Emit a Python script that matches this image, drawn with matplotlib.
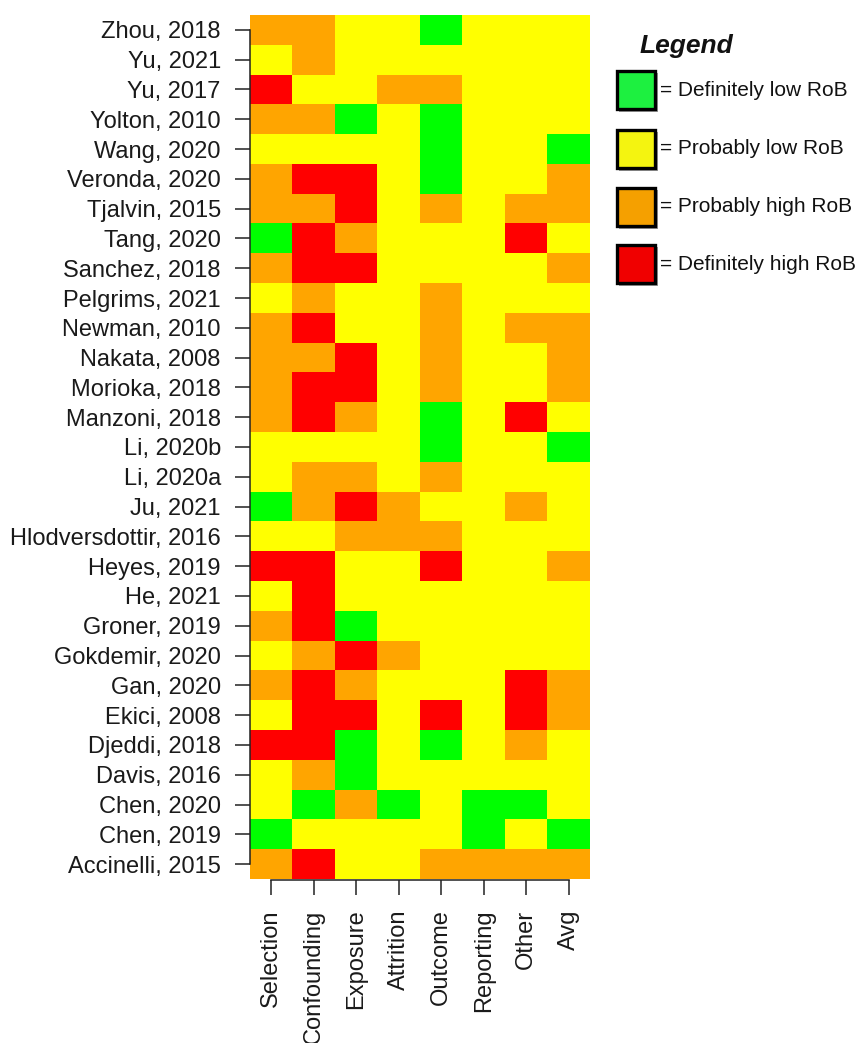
import numpy as np
import matplotlib
matplotlib.use("Agg")
import matplotlib.pyplot as plt
from matplotlib.colors import ListedColormap
from matplotlib.patches import Rectangle

plt.rcParams['font.family'] = ['Liberation Sans', 'DejaVu Sans']

# study labels, top to bottom
studies = ["Zhou, 2018", "Yu, 2021", "Yu, 2017", "Yolton, 2010", "Wang, 2020",
           "Veronda, 2020", "Tjalvin, 2015", "Tang, 2020", "Sanchez, 2018",
           "Pelgrims, 2021", "Newman, 2010", "Nakata, 2008", "Morioka, 2018",
           "Manzoni, 2018", "Li, 2020b", "Li, 2020a", "Ju, 2021",
           "Hlodversdottir, 2016", "Heyes, 2019", "He, 2021", "Groner, 2019",
           "Gokdemir, 2020", "Gan, 2020", "Ekici, 2008", "Djeddi, 2018",
           "Davis, 2016", "Chen, 2020", "Chen, 2019", "Accinelli, 2015"]

domains = ["Selection", "Confounding", "Exposure", "Attrition", "Outcome",
           "Reporting", "Other", "Avg"]

# 0 = definitely low, 1 = probably low, 2 = probably high, 3 = definitely high
rob = [
    [2, 2, 1, 1, 0, 1, 1, 1],
    [1, 2, 1, 1, 1, 1, 1, 1],
    [3, 1, 1, 2, 2, 1, 1, 1],
    [2, 2, 0, 1, 0, 1, 1, 1],
    [1, 1, 1, 1, 0, 1, 1, 0],
    [2, 3, 3, 1, 0, 1, 1, 2],
    [2, 2, 3, 1, 2, 1, 2, 2],
    [0, 3, 2, 1, 1, 1, 3, 1],
    [2, 3, 3, 1, 1, 1, 1, 2],
    [1, 2, 1, 1, 2, 1, 1, 1],
    [2, 3, 1, 1, 2, 1, 2, 2],
    [2, 2, 3, 1, 2, 1, 1, 2],
    [2, 3, 3, 1, 2, 1, 1, 2],
    [2, 3, 2, 1, 0, 1, 3, 1],
    [1, 1, 1, 1, 0, 1, 1, 0],
    [1, 2, 2, 1, 2, 1, 1, 1],
    [0, 2, 3, 2, 1, 1, 2, 1],
    [1, 1, 2, 2, 2, 1, 1, 1],
    [3, 3, 1, 1, 3, 1, 1, 2],
    [1, 3, 1, 1, 1, 1, 1, 1],
    [2, 3, 0, 1, 1, 1, 1, 1],
    [1, 2, 3, 2, 1, 1, 1, 1],
    [2, 3, 2, 1, 1, 1, 3, 2],
    [1, 3, 3, 1, 3, 1, 3, 2],
    [3, 3, 0, 1, 0, 1, 2, 1],
    [1, 2, 0, 1, 1, 1, 1, 1],
    [1, 0, 2, 0, 1, 0, 0, 1],
    [0, 1, 1, 1, 1, 0, 1, 0],
    [2, 3, 1, 1, 2, 2, 2, 2],
]

cell_colors = ["#00ff00", "#ffff00", "#ffa500", "#ff0000"]
legend_colors = ["#1df040", "#f4f410", "#f5a000", "#f00000"]
legend_labels = ["= Definitely low RoB", "= Probably low RoB",
                 "= Probably high RoB", "= Definitely high RoB"]

W, H = 867, 1043
fig = plt.figure(figsize=(W / 100, H / 100), dpi=100)


def fx(x):
    return x / W


def fy(y):
    return 1 - y / H


ax = fig.add_axes([fx(250), fy(879), (590 - 250) / W, (879 - 15) / H])
data = np.array(rob)
ax.imshow(data, cmap=ListedColormap(cell_colors), vmin=-0.5, vmax=3.5,
          aspect="auto", interpolation="nearest",
          extent=(-0.5, len(domains) - 0.5, len(studies) - 0.5, -0.5))

ax.set_yticks(range(len(studies)))
ax.set_yticklabels(studies)
ax.set_xticks(range(len(domains)))
ax.set_xticklabels(domains)
ax.tick_params(axis="both", length=11, width=1.1, pad=10, labelsize=17,
               labelcolor="#1a1a1a", color="#222222")
ax.tick_params(axis="x", labelrotation=90)
for s in ["top", "right"]:
    ax.spines[s].set_visible(False)
ax.spines["left"].set_bounds(0, len(studies) - 1)
ax.spines["bottom"].set_bounds(0, len(domains) - 1)
ax.spines["bottom"].set_position(("outward", 1))
for s in ["left", "bottom"]:
    ax.spines[s].set_linewidth(1.1)
    ax.spines[s].set_color("#222222")
    ax.spines[s].set_zorder(5)

# legend
fig.text(fx(640), fy(46), "Legend", fontsize=19, fontweight="bold",
         fontstyle="italic", va="center", ha="left", color="#111111")
box_tops = [70, 129, 187, 244]
for top, col, lab in zip(box_tops, legend_colors, legend_labels):
    shadow = Rectangle((fx(619), fy(top + 42)), 39 / W, 39 / H,
                       transform=fig.transFigure, facecolor="#9a9a9a",
                       edgecolor="none")
    box = Rectangle((fx(617), fy(top + 39)), 38 / W, 38 / H,
                    transform=fig.transFigure, facecolor=col,
                    edgecolor="black", linewidth=2.4)
    fig.patches.extend([shadow, box])
    fig.text(fx(660), fy(top + 20), lab, fontsize=15, va="center",
             ha="left", color="#111111")

fig.savefig("out.png", dpi=100)
